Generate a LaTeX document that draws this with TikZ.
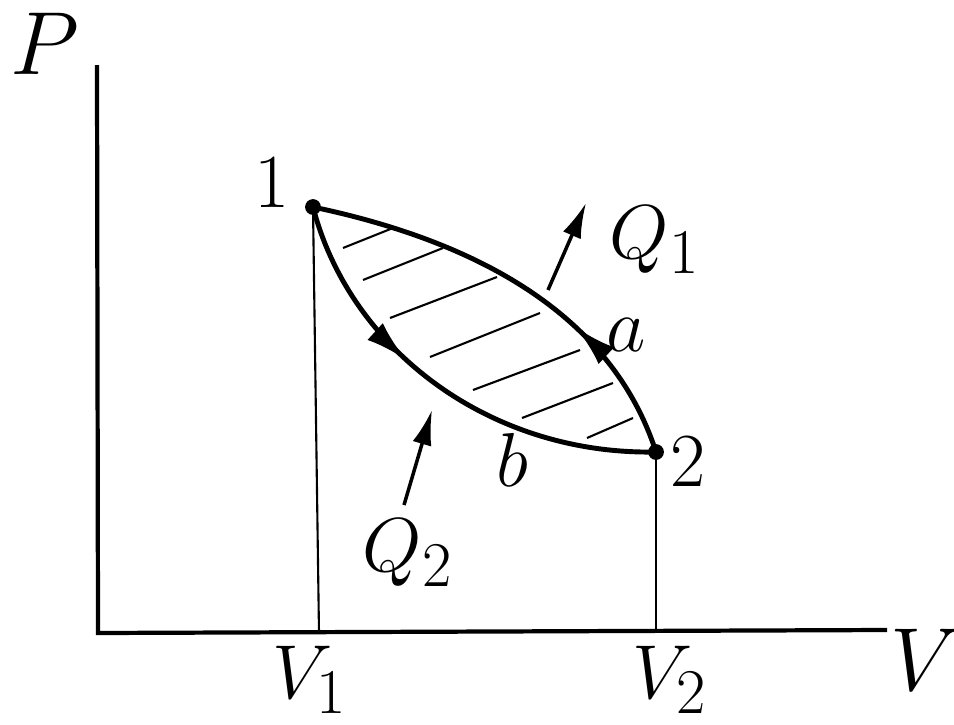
\documentclass[tikz,border=0pt]{standalone}
\usepackage{amsmath}
\usepackage{graphicx}
\usetikzlibrary{arrows.meta, decorations.markings}

\newcommand{\plab}[1]{\scalebox{1.75}{\Huge$#1$}}
\newcommand{\pbig}[1]{\scalebox{2.05}{\Huge$#1$}}

\tikzset{
  lbl/.style={inner sep=0pt},
  axis/.style={line width=2.4pt},
  cyc/.style={line width=2.8pt, postaction={decorate}},
  drop/.style={line width=1.2pt},
  hatch/.style={line width=1.2pt},
  heat/.style={line width=2pt, -{Latex[length=20pt,width=11pt]}},
  dot/.style={circle, fill, inner sep=0pt, minimum size=9pt}
}

\begin{document}
\begin{tikzpicture}[x=0.02cm, y=-0.02cm]
\useasboundingbox (0,0) rectangle (954,724);
% axes
\coordinate (ptop) at (97,65);
\coordinate (o) at (98,633);
\coordinate (vend) at (887,630);
\draw[axis] (ptop) -- (o) -- (vend);
\node[lbl] (P) at (45,44) {\pbig{P}};
\node[lbl] (V) at (926,660) {\pbig{V}};
% states 1 and 2
\node[dot] (p1) at (313,207) {};
\node[dot] (p2) at (656,452) {};
\node[lbl] (n1) at (272,183) {\plab{1}};
\node[lbl] (n2) at (688,462) {\plab{2}};
% hatching of the cycle area
\foreach \xa/\ya/\xb/\yb in {343/248/393/228, 363/280/443/248, 390/318/497/277,
    430/357/540/313, 473/390/580/350, 522/418/613/383, 587/438/633/418}
  \draw[hatch] (\xa,\ya) -- (\xb,\yb);
% branch a (2 -> 1) and branch b (1 -> 2)
\draw[cyc, decoration={markings, mark=at position 0.66 with
    {\arrowreversed{Latex[length=24pt,width=13pt]}}}]
  (p1.center) .. controls (470,240) and (610,310) .. (p2.center);
\draw[cyc, decoration={markings, mark=at position 0.4 with
    {\arrow{Latex[length=24pt,width=13pt]}}}]
  (p1.center) .. controls (350,350) and (490,455) .. (p2.center);
\node[lbl] (a) at (626,335) {\plab{a}};
\node[lbl] (b) at (512,460) {\plab{b}};
% heat
\coordinate (q1a) at (548,290);
\coordinate (q1b) at (586,203);
\draw[heat] (q1a) -- (q1b);
\node[lbl] (Q1) at (655,240) {\plab{Q_1}};
\coordinate (q2a) at (404,505);
\coordinate (q2b) at (432,410);
\draw[heat] (q2a) -- (q2b);
\node[lbl] (Q2) at (408,553) {\plab{Q_2}};
% volumes
\coordinate (v1) at (319,633);
\coordinate (v2) at (656,632);
\draw[drop] (p1.center) -- (v1);
\draw[drop] (p2.center) -- (v2);
\node[lbl] (V1) at (310,680) {\plab{V_1}};
\node[lbl] (V2) at (670,680) {\plab{V_2}};
\end{tikzpicture}
\end{document}
